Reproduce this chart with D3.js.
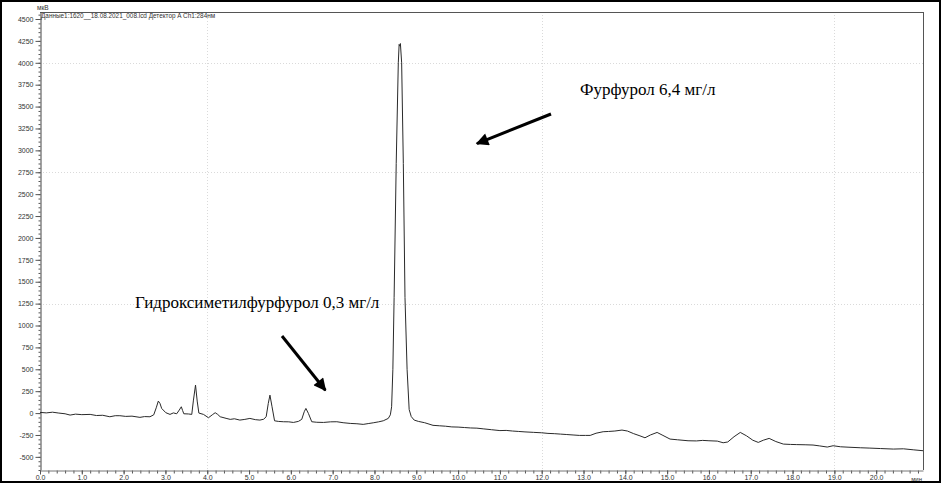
<!DOCTYPE html>
<html><head><meta charset="utf-8">
<script src="https://cdn.jsdelivr.net/npm/d3@7"></script>
<style>body{margin:0;background:#fff}svg{display:block}</style>
</head><body>
<svg id="c" width="942" height="484"></svg>
<script>
// ---- data ----
const retentionTime = [0.00,0.15,0.30,0.45,0.60,0.72,0.85,1.00,1.20,1.35,1.50,1.67,1.80,1.91,2.05,2.20,2.39,2.50,2.63,2.72,2.78,2.83,2.87,2.91,3.01,3.11,3.19,3.27,3.33,3.38,3.41,3.44,3.55,3.63,3.67,3.72,3.76,3.80,3.91,4.03,4.12,4.19,4.25,4.31,4.45,4.55,4.65,4.78,4.90,5.02,5.15,5.26,5.35,5.41,5.46,5.50,5.55,5.61,5.70,5.82,5.95,6.06,6.18,6.26,6.32,6.36,6.42,6.50,6.62,6.78,6.95,7.10,7.25,7.42,7.58,7.73,7.85,7.97,8.10,8.21,8.33,8.38,8.41,8.44,8.47,8.52,8.57,8.59,8.61,8.62,8.65,8.69,8.73,8.78,8.83,8.88,8.95,9.05,9.20,9.40,9.55,9.70,9.85,10.00,10.15,10.30,10.45,10.60,10.80,11.00,11.15,11.30,11.45,11.60,11.80,12.00,12.15,12.30,12.45,12.60,12.75,12.90,13.05,13.16,13.30,13.47,13.60,13.75,13.92,14.05,14.20,14.35,14.47,14.60,14.76,14.90,15.07,15.25,15.50,15.70,15.85,16.00,16.20,16.34,16.45,16.60,16.75,16.90,17.05,17.18,17.30,17.44,17.60,17.78,17.95,18.10,18.30,18.49,18.65,18.83,18.97,19.15,19.35,19.62,19.85,20.10,20.41,20.65,20.90,21.12];
const signal = [8,2,10,0,-8,-23,-12,-18,-15,-28,-25,-42,-30,-30,-38,-35,-49,-40,-42,-20,60,137,110,53,4,-15,2,-8,34,72,30,-8,-10,-15,148,320,137,0,-15,-53,-20,4,-15,-42,-60,-72,-65,-80,-72,-61,-75,-80,-70,-42,110,205,72,-88,-95,-99,-100,-107,-95,-72,15,53,-4,-99,-105,-107,-100,-99,-110,-118,-122,-129,-120,-111,-100,-88,-61,-20,72,500,1320,2850,4000,4210,4190,4220,4000,2850,1320,500,40,-40,-80,-95,-110,-140,-145,-150,-158,-160,-165,-170,-172,-180,-190,-200,-198,-205,-210,-215,-220,-225,-232,-235,-240,-245,-250,-255,-255,-255,-230,-213,-210,-205,-194,-205,-235,-260,-282,-250,-221,-255,-297,-305,-316,-318,-312,-316,-320,-339,-330,-270,-221,-260,-310,-335,-310,-289,-325,-354,-358,-360,-362,-365,-375,-388,-373,-385,-390,-396,-400,-405,-411,-408,-420,-430];
const yTickValues = [-500,-250,0,250,500,750,1000,1250,1500,1750,2000,2250,2500,2750,3000,3250,3500,3750,4000,4250,4500];
const xTickValues = [0,1,2,3,4,5,6,7,8,9,10,11,12,13,14,15,16,17,18,19,20];
const xGridValues = [4,12,19];
const yGridValues = [1250,2750,4000];
const headerText = "Данные1:1620__18.08.2021_008.lcd Детектор A Ch1:284нм";
const yUnit = "мкВ";
const xUnit = "мин";
const annotations = [
  {text:"Фурфурол 6,4 мг/л", tx:580, ty:95, from:[551,114], to:[476,144]},
  {text:"Гидроксиметилфурфурол 0,3 мг/л", tx:135, ty:308, from:[282,336], to:[326,391]}
];

const svg = d3.select("#c");
const L=40, R=923, T=12, B=470;
const x = d3.scaleLinear().domain([0,21.12]).range([L,R]);
const y = d3.scaleLinear().domain([-650,4580]).range([B,T]);

// outer border
svg.append("rect").attr("x",1).attr("y",1).attr("width",939).attr("height",481)
  .attr("fill","none").attr("stroke","#000").attr("stroke-width",2);

// grid
const grid = svg.append("g").attr("stroke","#dadada").attr("stroke-dasharray","1,2").attr("stroke-width",1);
xGridValues.forEach(v=>grid.append("line").attr("x1",Math.round(x(v))+0.5).attr("x2",Math.round(x(v))+0.5).attr("y1",T).attr("y2",B));
yGridValues.forEach(v=>grid.append("line").attr("y1",Math.round(y(v))+0.5).attr("y2",Math.round(y(v))+0.5).attr("x1",L).attr("x2",R));

// frame top/right
svg.append("line").attr("x1",L).attr("x2",R).attr("y1",T+0.5).attr("y2",T+0.5).attr("stroke","#555");
svg.append("line").attr("x1",R+0.5).attr("x2",R+0.5).attr("y1",T).attr("y2",B).attr("stroke","#555");

const fontTick = "'Liberation Sans Narrow', Arial, sans-serif";

// y axis
const yMinor = d3.range(-650,4551,50);
const yAxisMinor = svg.append("g").attr("transform",`translate(${L+0.5},0)`)
  .call(d3.axisLeft(y).tickValues(yMinor).tickSize(2).tickFormat(""));
yAxisMinor.select(".domain").remove();
yAxisMinor.selectAll("line").attr("stroke","#555");
const yAxis = svg.append("g").attr("transform",`translate(${L+0.5},0)`)
  .call(d3.axisLeft(y).tickValues(yTickValues).tickSize(5).tickPadding(2).tickSizeOuter(0).tickFormat(d=>String(d)));
yAxis.select(".domain").attr("stroke","#444");
yAxis.selectAll("line").attr("stroke","#555");
yAxis.selectAll("text").attr("font-family",fontTick).attr("font-size","7px").attr("fill","#333");

// x axis
const xMinor = d3.range(0,106).map(i=>i*0.2);
const xAxisMinor = svg.append("g").attr("transform",`translate(0,${B+0.5})`)
  .call(d3.axisBottom(x).tickValues(xMinor).tickSize(3).tickFormat(""));
xAxisMinor.select(".domain").remove();
xAxisMinor.selectAll("line").attr("stroke","#555");
const xAxis = svg.append("g").attr("transform",`translate(0,${B+0.5})`)
  .call(d3.axisBottom(x).tickValues(xTickValues).tickSize(4).tickPadding(1).tickSizeOuter(0).tickFormat(d3.format(".1f")));
xAxis.select(".domain").attr("stroke","#777");
xAxis.selectAll("line").attr("stroke","#555");
xAxis.selectAll("text").attr("font-family",fontTick).attr("font-size","7px").attr("fill","#333");

// units & header
svg.append("text").attr("x",37).attr("y",10).attr("font-family",fontTick).attr("font-size","6.5px").attr("fill","#333").text(yUnit);
svg.append("text").attr("x",922).attr("y",481).attr("text-anchor","end").attr("font-family",fontTick).attr("font-size","6px").attr("fill","#333").text(xUnit);
svg.append("text").attr("x",41).attr("y",18).attr("font-family","Arial, 'Liberation Sans', sans-serif").attr("font-size","6.4px").attr("fill","#333").text(headerText);

// trace
const pts = retentionTime.map((t,i)=>[t,signal[i]]);
svg.append("path").datum(pts)
  .attr("d",d3.line().x(d=>x(d[0])).y(d=>y(d[1])))
  .attr("fill","none").attr("stroke","#2a2a2a").attr("stroke-width",1);

// annotations
const defs = svg.append("defs");
defs.append("marker").attr("id","ah").attr("viewBox","0 0 10 10").attr("refX",9).attr("refY",5)
  .attr("markerWidth",5.5).attr("markerHeight",4.2).attr("markerUnits","strokeWidth").attr("orient","auto")
  .append("path").attr("d","M0,0 L10,5 L0,10 z").attr("fill","#000");
annotations.forEach(a=>{
  svg.append("text").attr("x",a.tx).attr("y",a.ty).attr("font-family","'Liberation Serif', 'Times New Roman', serif")
    .attr("font-size","17px").attr("fill","#000").text(a.text);
  const dx=a.to[0]-a.from[0], dy=a.to[1]-a.from[1], len=Math.hypot(dx,dy);
  const ex=a.to[0]-dx/len*1, ey=a.to[1]-dy/len*1;
  svg.append("line").attr("x1",a.from[0]).attr("y1",a.from[1]).attr("x2",ex).attr("y2",ey)
    .attr("stroke","#000").attr("stroke-width",3).attr("marker-end","url(#ah)");
});
</script>
</body></html>
